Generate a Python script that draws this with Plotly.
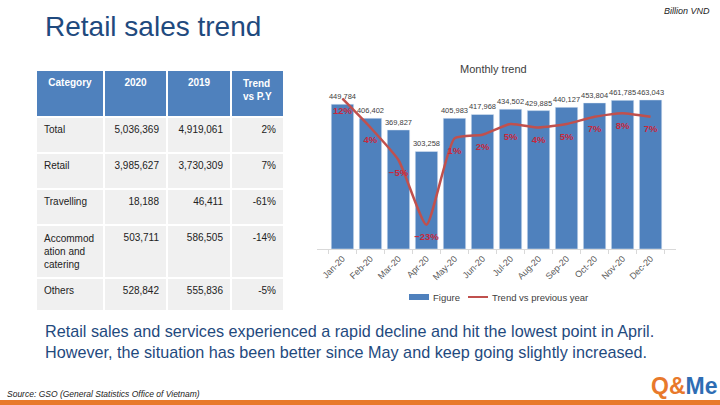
import plotly.graph_objects as go

# ---------------- data ----------------
months = ["Jan-20", "Feb-20", "Mar-20", "Apr-20", "May-20", "Jun-20",
          "Jul-20", "Aug-20", "Sep-20", "Oct-20", "Nov-20", "Dec-20"]
figure_vals = [449784, 406402, 369827, 303258, 405983, 417968,
               434502, 429885, 440127, 453804, 461785, 463043]
trend_vals = [12, 4, -5, -23, 1, 2, 5, 4, 5, 7, 8, 7]

table_header = ["Category", "2020", "2019", "Trend<br>vs P.Y"]
categories = ["Total", "Retail", "Travelling", "Accommod<br>ation and<br>catering", "Others"]
val_2020 = ["5,036,369", "3,985,627", "18,188", "503,711", "528,842"]
val_2019 = ["4,919,061", "3,730,309", "46,411", "586,505", "555,836"]
trend_py = ["2%", "7%", "-61%", "-14%", "-5%"]

W, H = 720, 405
def px(x): return x / W
def py(y): return 1 - y / H

FONT = "Liberation Sans, Arial, sans-serif"
BLUE = "#4F81BD"
RED = "#C0504D"
NAVY = "#1F4A7E"

fig = go.Figure()

fig.add_trace(go.Table(
    domain=dict(x=[px(36), px(284)], y=[py(310), py(70)]),
    columnwidth=[68, 63, 64, 53],
    header=dict(values=table_header, fill_color=BLUE,
                line=dict(color="white", width=1.5),
                font=dict(family=FONT, size=10, color="white", weight="bold"),
                align="center", height=47),
    cells=dict(values=[categories, val_2020, val_2019, trend_py],
               fill_color="#F0F0F0", line=dict(color="white", width=1.5),
               font=dict(family=FONT, size=10, color="#222222"),
               align=["left", "right", "right", "right"], height=36),
))

fig.add_trace(go.Bar(
    x=months, y=figure_vals, name="Figure", marker_color=BLUE,
    texttemplate="%{y:,}", textposition="outside", cliponaxis=False,
    constraintext="none",
    textfont=dict(family=FONT, size=7.5, color="#404040"),
    xaxis="x", yaxis="y", showlegend=False,
))

fig.add_trace(go.Scatter(
    x=months, y=trend_vals, name="Trend vs previous year",
    mode="lines+markers+text",
    line=dict(color=RED, width=2.5, shape="spline", smoothing=0.5),
    marker=dict(size=12, opacity=0),
    texttemplate="%{y}%", textposition="bottom center", cliponaxis=False,
    textfont=dict(family=FONT, size=9.5, color="#C8283C", weight="bold"),
    xaxis="x", yaxis="y2", showlegend=False,
))

fig.update_layout(
    width=W, height=H, margin=dict(l=0, r=0, t=0, b=0),
    paper_bgcolor="white", plot_bgcolor="white",
    font=dict(family=FONT),
    bargap=0.2,
    xaxis=dict(domain=[px(317), px(676)], tickangle=-45, showline=True,
               linecolor="#D9D9D9", ticks="outside", tickson="boundaries",
               ticklen=4, tickcolor="#D9D9D9",
               tickfont=dict(family=FONT, size=9, color="#595959")),
    yaxis=dict(domain=[py(249), py(80)], range=[0, 525000], visible=False),
    yaxis2=dict(overlaying="y", range=[-29.7, 17.2], visible=False),
)

annotations = [
    dict(text="Retail sales trend", x=px(43), y=py(27), xanchor="left", yanchor="middle",
         font=dict(family=FONT, size=28, color=NAVY)),
    dict(text="<i>Billion VND</i>", x=px(712), y=py(11), xanchor="right", yanchor="middle",
         font=dict(family=FONT, size=9, color="#222222")),
    dict(text="Monthly trend", x=px(493), y=py(69), xanchor="center", yanchor="middle",
         font=dict(family=FONT, size=11, color="#404040")),
    dict(text="Figure", x=px(431), y=py(297), xanchor="left", yanchor="middle",
         font=dict(family=FONT, size=9.5, color="#404040")),
    dict(text="Trend vs previous year", x=px(490), y=py(297), xanchor="left", yanchor="middle",
         font=dict(family=FONT, size=9.5, color="#404040")),
    dict(text="Retail sales and services experienced a rapid decline and hit the lowest point in April.<br>"
              "However, the situation has been better since May and keep going slightly increased.",
         x=px(43), y=py(341), xanchor="left", yanchor="middle", align="left",
         font=dict(family=FONT, size=16.2, color=NAVY)),
    dict(text="<i>Source: GSO (General Statistics Office of Vietnam)</i>", x=px(5), y=py(394),
         xanchor="left", yanchor="middle", font=dict(family=FONT, size=8.5, color="#222222")),
    dict(text="<b><span style='color:#E8792B'>Q&amp;</span><span style='color:#2E6DB4'>Me</span></b>",
         x=px(719), y=py(386), xanchor="right", yanchor="middle",
         font=dict(family=FONT, size=23)),
]
for a in annotations:
    a.update(xref="paper", yref="paper", showarrow=False)
fig.update_layout(annotations=annotations)

shapes = [
    dict(type="rect", x0=px(409), x1=px(429), y0=py(294), y1=py(300),
         fillcolor=BLUE, line=dict(width=0)),
    dict(type="line", x0=px(468), x1=px(488), y0=py(297), y1=py(297),
         line=dict(color=RED, width=2)),
    dict(type="rect", x0=0, x1=1, y0=0, y1=py(400),
         fillcolor="#E8792B", line=dict(width=0)),
]
for s in shapes:
    s.update(xref="paper", yref="paper")
fig.update_layout(shapes=shapes)

fig.write_html("out.html", config={"displayModeBar": False},
               post_script="document.body.style.margin='0';document.body.style.padding='0';")
